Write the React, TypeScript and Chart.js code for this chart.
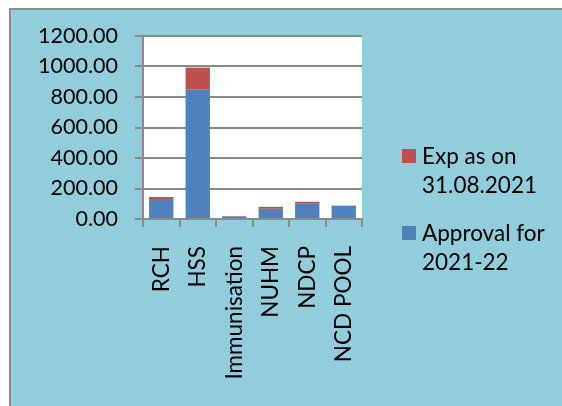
import React, { useEffect, useRef } from "react";
import { Chart, registerables } from "chart.js";

Chart.register(...registerables);

const categories = ["RCH", "HSS", "Immunisation", "NUHM", "NDCP", "NCD POOL"];
const approvalValues = [131, 851, 17, 67, 104, 86];
const expValues = [13, 142, 3, 13, 9, 2];
const approvalLabel = "Approval for\n2021-22";
const expLabel = "Exp as on\n31.08.2021";
const yMin = 0;
const yMax = 1200;
const yStep = 200;

const BLUE = "#4F81BD";
const RED = "#C0504D";
const GRID = "#8a8a8a";
const FONT = "Lato, 'Open Sans', sans-serif";

const plotBg = {
  id: "plotBg",
  beforeDraw(chart: any) {
    const { ctx, chartArea } = chart;
    ctx.save();
    ctx.fillStyle = "#ffffff";
    ctx.fillRect(chartArea.left, chartArea.top, chartArea.right - chartArea.left, chartArea.bottom - chartArea.top);
    ctx.restore();
  },
};

const sideLegend = {
  id: "sideLegend",
  afterDraw(chart: any) {
    const { ctx, chartArea } = chart;
    const ds = chart.data.datasets.slice().reverse();
    const x0 = chartArea.right + 40;
    let y = 139;
    ctx.save();
    ctx.font = `22.5px ${FONT}`;
    ctx.textBaseline = "alphabetic";
    ds.forEach((d: any) => {
      ctx.fillStyle = d.backgroundColor;
      ctx.fillRect(x0, y, 14, 14);
      ctx.fillStyle = "#000";
      const lines = String(d.label).split("\n");
      lines.forEach((ln: string, i: number) => {
        ctx.fillText(ln, x0 + 20, y + 15 + i * 29);
      });
      y += 77;
    });
    ctx.restore();
  },
};

export default function App() {
  const ref = useRef<HTMLCanvasElement | null>(null);
  useEffect(() => {
    document.body.style.overflow = "hidden";
    Chart.defaults.font.family = FONT;
    Chart.defaults.font.size = 21.5;
    Chart.defaults.color = "#000";
    const chart = new Chart(ref.current as HTMLCanvasElement, {
      type: "bar",
      data: {
        labels: categories,
        datasets: [
          { label: approvalLabel, data: approvalValues, backgroundColor: BLUE, barPercentage: 0.667, categoryPercentage: 1 },
          { label: expLabel, data: expValues, backgroundColor: RED, barPercentage: 0.667, categoryPercentage: 1 },
        ],
      },
      options: {
        animation: false,
        responsive: true,
        maintainAspectRatio: false,
        layout: { padding: { top: 26, right: 200, left: 0, bottom: 0 } },
        plugins: { legend: { display: false }, tooltip: { enabled: false } },
        scales: {
          x: {
            stacked: true,
            afterFit: (s: any) => { s.height = 187; },
            grid: { drawOnChartArea: false, drawTicks: true, tickLength: 8, color: GRID, lineWidth: 2, offset: true },
            border: { display: true, color: GRID, width: 2 },
            ticks: { minRotation: 90, maxRotation: 90, padding: 19, autoSkip: false, font: { size: 22.5 } },
          },
          y: {
            stacked: true,
            min: yMin,
            max: yMax,
            afterFit: (s: any) => { s.width = 132; s.paddingTop = 0; s.paddingBottom = 0; },
            grid: { color: GRID, lineWidth: 2, tickLength: 8, drawTicks: true },
            border: { display: true, color: GRID, width: 2 },
            ticks: { stepSize: yStep, padding: 17, font: { size: 21.5 }, callback: (v: any) => Number(v).toFixed(2) },
          },
        },
      },
      plugins: [plotBg, sideLegend],
    });
    return () => chart.destroy();
  }, []);
  return (
    <div
      style={{
        position: "fixed",
        left: 9,
        top: 8,
        right: 0,
        bottom: 0,
        background: "#92CDDC",
        borderLeft: "2px solid #8c8c8c",
        borderTop: "2px solid #8c8c8c",
      }}
    >
      <div style={{ position: "relative", width: 551, height: 396 }}>
        <canvas ref={ref} />
      </div>
    </div>
  );
}
